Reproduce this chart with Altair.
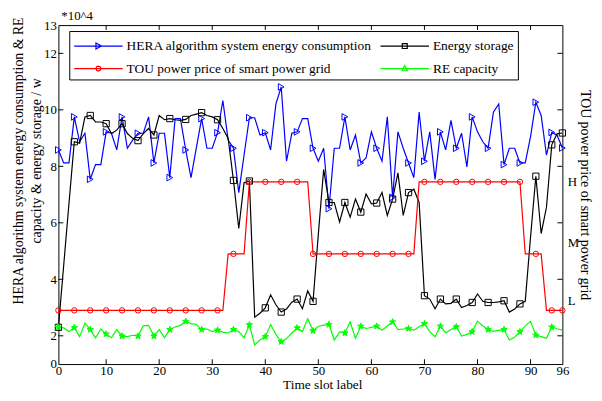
import altair as alt
import pandas as pd

# ---------------- data ----------------
slots = list(range(1, 97))

hera = [8.58, 8.12, 8.12, 9.75, 8.87, 9.17, 7.54, 8.06, 8.06, 9.22,
        9.17, 8.58, 9.75, 8.64, 8.93, 9.17, 9.17, 9.75, 8.12, 9.17,
        9.17, 7.60, 9.69, 9.69, 8.58, 7.60, 8.65, 9.69, 8.64, 8.64,
        9.19, 10.33, 8.93, 8.64, 7.07, 8.40, 9.72, 9.72, 9.11, 9.19,
        8.58, 10.21, 10.81, 8.18, 9.17, 9.22, 9.69, 9.69, 8.64, 8.18,
        8.64, 6.50, 8.64, 8.64, 9.75, 8.58, 9.11, 8.12, 8.30, 9.22,
        8.64, 8.18, 9.75, 6.90, 9.22, 8.64, 8.12, 7.60, 9.92, 8.18,
        9.22, 7.54, 9.22, 8.58, 9.63, 8.64, 9.17, 7.98, 9.75, 9.22,
        8.87, 8.64, 9.92, 10.21, 8.06, 8.64, 8.64, 8.12, 8.12, 9.05,
        10.27, 9.80, 8.40, 9.20, 9.10, 8.65]

storage = [2.30, 4.50, 6.70, 8.87, 8.82, 9.75, 9.80, 9.57, 9.57, 9.51,
           9.16, 9.28, 9.51, 9.16, 8.99, 8.91, 9.16, 9.34, 9.11, 9.80,
           9.65, 9.69, 9.65, 9.63, 9.66, 9.80, 9.85, 9.90, 9.80, 9.75,
           9.65, 9.34, 8.99, 7.50, 5.80, 7.42, 7.48, 2.66, 2.80, 2.99,
           3.45, 3.10, 2.84, 2.95, 3.19, 3.30, 2.96, 3.59, 3.22, 5.60,
           7.89, 6.72, 6.72, 6.03, 6.72, 6.20, 6.84, 6.38, 7.02, 6.67,
           6.70, 7.07, 6.26, 6.84, 7.77, 6.26, 7.07, 7.19, 6.72, 3.42,
           3.30, 2.96, 3.30, 3.13, 3.15, 3.30, 3.00, 3.07, 3.18, 3.48,
           3.22, 3.18, 3.18, 3.20, 3.24, 2.84, 2.95, 3.13, 3.22, 5.50,
           7.65, 5.62, 6.55, 8.76, 9.15, 9.18]

tou = [2.9, 2.9, 2.9, 2.9, 2.9, 2.9, 2.9, 2.9, 2.9, 2.9,
       2.9, 2.9, 2.9, 2.9, 2.9, 2.9, 2.9, 2.9, 2.9, 2.9,
       2.9, 2.9, 2.9, 2.9, 2.9, 2.9, 2.9, 2.9, 2.9, 2.9,
       2.9, 2.9, 4.9, 4.9, 4.9, 4.9, 7.45, 7.45, 7.45, 7.45,
       7.45, 7.45, 7.45, 7.45, 7.45, 7.45, 7.45, 7.45, 4.9, 4.9,
       4.9, 4.9, 4.9, 4.9, 4.9, 4.9, 4.9, 4.9, 4.9, 4.9,
       4.9, 4.9, 4.9, 4.9, 4.9, 4.9, 4.9, 4.9, 7.45, 7.45,
       7.45, 7.45, 7.45, 7.45, 7.45, 7.45, 7.45, 7.45, 7.45, 7.45,
       7.45, 7.45, 7.45, 7.45, 7.45, 7.45, 7.45, 7.45, 4.9, 4.9,
       4.9, 4.9, 2.9, 2.9, 2.9, 2.9]

re_cap = [2.31, 2.28, 2.15, 2.29, 1.97, 2.45, 2.22, 1.93, 2.24, 2.06,
          1.93, 2.22, 1.99, 1.97, 2.02, 1.99, 2.35, 2.37, 1.99, 2.22,
          1.93, 2.22, 2.31, 2.37, 2.51, 2.43, 2.40, 2.22, 2.24, 2.15,
          2.20, 2.13, 2.10, 2.22, 2.15, 1.93, 2.39, 1.68, 1.85, 1.97,
          2.40, 2.05, 1.79, 1.90, 2.10, 2.28, 2.15, 2.60, 2.18, 2.34,
          2.38, 2.40, 1.85, 2.14, 2.10, 2.49, 1.91, 2.34, 2.26, 2.30,
          2.34, 2.20, 2.35, 2.49, 2.22, 2.24, 2.26, 2.20, 2.32, 2.43,
          2.15, 1.97, 2.34, 2.10, 2.22, 2.32, 1.99, 2.05, 2.14, 2.52,
          2.35, 2.22, 2.16, 2.19, 2.22, 1.85, 1.95, 2.14, 2.35, 2.51,
          2.02, 1.97, 1.91, 2.31, 2.25, 2.20]

HERA = "HERA algorithm system energy consumption"
STOR = "Energy storage"
TOU = "TOU power price of smart power grid"
RE = "RE capacity"
series_names = [HERA, STOR, TOU, RE]
series_colors = ["#0000ff", "#000000", "#ff0000", "#00ff00"]

x_tick_values = [1, 10, 20, 30, 40, 50, 60, 70, 80, 90, 96]
y_tick_values = [1, 2, 4, 6, 8, 10, 12, 13]
inner_y_ticks = [2, 4, 6, 8, 10, 12]
inner_x_ticks = [10, 20, 30, 40, 50, 60, 70, 80, 90]
price_levels = [3.25, 5.3, 7.45]

marker_slots = list(range(1, 97, 3))

# ---------------- tables ----------------
rows = []
for name, vals in zip(series_names, [hera, storage, tou, re_cap]):
    for t, v in zip(slots, vals):
        rows.append({"t": t, "v": v, "series": name})
df = pd.DataFrame(rows)

STAR = ("M0,-1L0.24,-0.31L0.95,-0.31L0.38,0.12L0.59,0.81L0,0.4L-0.59,0.81"
        "L-0.38,0.12L-0.95,-0.31L-0.24,-0.31Z")
marker_style = {
    HERA: ("triangle-right", "transparent", 45, marker_slots + [96]),
    STOR: ("square", "transparent", 40, marker_slots + [96]),
    TOU: ("circle", "transparent", 30, marker_slots + [96]),
    RE: (STAR, "#00ff00", 45, marker_slots),
}
mrows = []
for name, vals in zip(series_names, [hera, storage, tou, re_cap]):
    shp, fil, sz, idx = marker_style[name]
    for t in idx:
        mrows.append({"t": t, "v": vals[t - 1], "series": name,
                      "shape": shp, "fill": fil, "size": sz})
mdf = pd.DataFrame(mrows)

seg = []
for v in inner_y_ticks:
    seg.append({"x0": 1, "x1": 1.93, "y0": v, "y1": v})
    seg.append({"x0": 95.07, "x1": 96, "y0": v, "y1": v})
for t in inner_x_ticks:
    seg.append({"x0": t, "x1": t, "y0": 1, "y1": 1.17})
    seg.append({"x0": t, "x1": t, "y0": 12.83, "y1": 13})
seg_df = pd.DataFrame(seg)

leg_df = pd.DataFrame({"series": series_names, "t": [1, 1, 1, 1], "v": [2.3, 2.3, 2.3, 2.3]})

# ---------------- encodings ----------------
FONT = "Liberation Serif"
xscale = alt.Scale(domain=[1, 96], nice=False, zero=False)
yscale = alt.Scale(domain=[1, 13], nice=False, zero=False)
cscale = alt.Scale(domain=series_names, range=series_colors)

x_axis = alt.Axis(values=x_tick_values,
                  labelExpr="datum.value == 1 ? '0' : datum.label",
                  ticks=False, labelPadding=1, labelFlush=False,
                  labelOverlap=False,
                  title="Time slot label", titleX=267, titleY=25,
                  titleFontSize=13.5,
                  titleBaseline="alphabetic", titleAlign="center")
left_axis = alt.Axis(orient="left", values=y_tick_values,
                     labelExpr="datum.value == 1 ? '0' : datum.label",
                     ticks=False, labelPadding=2, labelOverlap=False,
                     title=["HERA algorithm system energy consumption & RE",
                            "capacity & energy storage / w"],
                     titleAngle=270, titleX=-40, titleY=137,
                     titleBaseline="middle", titleAlign="center",
                     titleLineHeight=18)
right_axis = alt.Axis(orient="right", values=price_levels,
                      labelExpr="datum.value < 4 ? 'L' : (datum.value < 6 ? 'M' : 'H')",
                      ticks=False, labelPadding=5, labelOverlap=False,
                      title="TOU power price of smart power grid",
                      titleAngle=90, titleX=22, titleBaseline="middle",
                      titleAlign="center")

X = alt.X("t:Q", scale=xscale, axis=x_axis)
color_nl = alt.Color("series:N", scale=cscale, legend=None)

# legend symbols: a 49px line with the series marker in its middle
legend_paths = [
    "M-1,0H3.9M1.2,-0.3L1.75,0L1.2,0.3Z",
    "M-1,0H3.9M1.2,-0.25H1.7V0.25H1.2Z",
    "M-1,0H3.9M1.2,0L1.27,-0.18L1.45,-0.25L1.63,-0.18L1.7,0L1.63,0.18L1.45,0.25L1.27,0.18Z",
    "M-1,0H3.9M1.45,-0.3L1.72,0.22H1.18Z",
]
leg = alt.Legend(title=None, orient="none", legendX=11, legendY=6, columns=2,
                 direction="horizontal",
                 labelFont=FONT, labelFontSize=13.6, labelColor="black",
                 labelLimit=400, symbolSize=400, symbolStrokeWidth=1.2,
                 symbolOpacity=1, strokeColor="black", fillColor="white",
                 padding=4, rowPadding=5, columnPadding=5, labelOffset=32)

# legend layer first so that its legend definition wins the merge
legend_layer = alt.Chart(leg_df).mark_point(opacity=0, filled=False).encode(
    x=X,
    y=alt.Y("v:Q", scale=yscale, axis=None),
    color=alt.Color("series:N", scale=cscale, legend=leg),
    shape=alt.Shape("series:N", scale=alt.Scale(domain=series_names, range=legend_paths),
                    legend=leg),
)

lines_main = alt.Chart(df).transform_filter(
    alt.FieldOneOfPredicate(field="series", oneOf=[HERA, STOR])
).mark_line(strokeWidth=1.2).encode(
    x=X,
    y=alt.Y("v:Q", scale=yscale, axis=left_axis),
    color=color_nl,
)

red_line = alt.Chart(df).transform_filter(
    alt.FieldEqualPredicate(field="series", equal=TOU)
).mark_line(strokeWidth=1.2).encode(
    x=X,
    y=alt.Y("v:Q", scale=yscale, axis=right_axis),
    color=color_nl,
)

green_line = alt.Chart(df).transform_filter(
    alt.FieldEqualPredicate(field="series", equal=RE)
).mark_line(strokeWidth=1.2).encode(
    x=X,
    y=alt.Y("v:Q", scale=yscale, axis=None),
    color=color_nl,
)

markers = alt.Chart(mdf).mark_point(filled=False, strokeWidth=1, opacity=1).encode(
    x=X,
    y=alt.Y("v:Q", scale=yscale, axis=None),
    color=color_nl,
    shape=alt.Shape("shape:N", scale=None),
    fill=alt.Fill("fill:N", scale=None),
    size=alt.Size("size:Q", scale=None),
)

ticks = alt.Chart(seg_df).mark_rule(color="black", strokeWidth=1).encode(
    x=alt.X("x0:Q", scale=xscale, axis=x_axis),
    x2="x1:Q",
    y=alt.Y("y0:Q", scale=yscale, axis=None),
    y2="y1:Q",
)

chart = alt.layer(legend_layer, lines_main, red_line, green_line, markers, ticks).resolve_axis(
    y="independent"
).properties(
    width=510, height=343,
    title=alt.TitleParams(text="*10^4", anchor="start", frame="group", dx=3, dy=12,
                          offset=5, fontSize=13, fontWeight="normal", font=FONT,
                          color="black"),
    autosize=alt.AutoSizeParams(type="none"),
    padding={"left": 51, "top": 15, "right": 32, "bottom": 27},
).configure(font=FONT).configure_view(
    stroke="black", strokeWidth=1
).configure_axis(
    grid=False, domain=False, labelFont=FONT, titleFont=FONT,
    labelFontSize=13, titleFontSize=14, titleFontWeight="normal",
    labelColor="black", titleColor="black",
)

chart.save("out.html", embed_options={"renderer": "svg", "actions": False})
